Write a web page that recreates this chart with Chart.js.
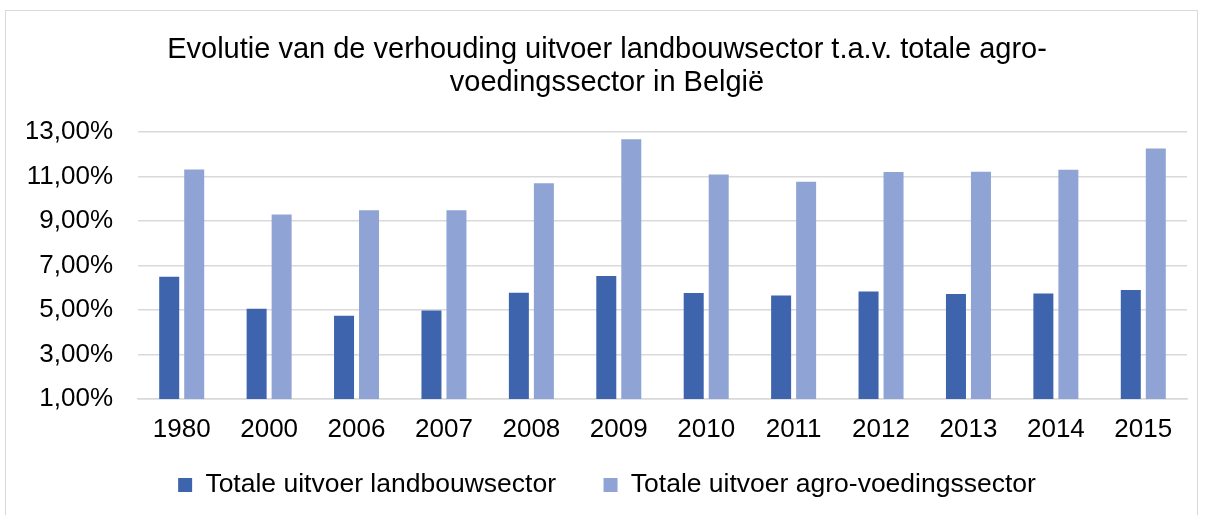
<!DOCTYPE html>
<html>
<head>
<meta charset="utf-8">
<script src="https://cdn.jsdelivr.net/npm/chart.js@4/dist/chart.umd.min.js"></script>
<style>
  html, body { margin: 0; padding: 0; background: #fff; }
  #kader { position: absolute; left: 5px; top: 10px; width: 1191px; height: 600px; border: 1px solid #d9d9d9; }
  #wrap { position: absolute; left: 0; top: 0; width: 1205px; height: 515px; }
</style>
</head>
<body>
<div id="kader"></div>
<div id="wrap"><canvas id="grafiek"></canvas></div>
<script>
const jaren = ["1980", "2000", "2006", "2007", "2008", "2009", "2010", "2011", "2012", "2013", "2014", "2015"];
const landbouw = [6.50, 5.06, 4.74, 4.98, 5.78, 6.53, 5.77, 5.65, 5.83, 5.72, 5.74, 5.90];
const agroVoeding = [11.32, 9.29, 9.48, 9.48, 10.70, 12.67, 11.09, 10.77, 11.20, 11.21, 11.30, 12.26];
const reeksNamen = ["Totale uitvoer landbouwsector", "Totale uitvoer agro-voedingssector"];
const titel = ["Evolutie van de verhouding uitvoer landbouwsector t.a.v. totale agro-", "voedingssector in België"];

const lettertype = "'Liberation Sans', Arial, sans-serif";

function procent(v) {
  return v.toFixed(2).replace(".", ",") + "%";
}

new Chart(document.getElementById("grafiek"), {
  type: "bar",
  data: {
    labels: jaren,
    datasets: [
      { label: reeksNamen[0], data: landbouw, backgroundColor: "#3d64ad" },
      { label: reeksNamen[1], data: agroVoeding, backgroundColor: "#8fa4d4" }
    ]
  },
  options: {
    responsive: true,
    maintainAspectRatio: false,
    animation: false,
    datasets: { bar: { categoryPercentage: 0.572, barPercentage: 0.8 } },
    layout: { padding: { top: 33.5, left: 27, right: 18, bottom: 6.75 } },
    plugins: {
      tooltip: { enabled: false },
      title: {
        display: true,
        text: titel,
        color: "#000",
        font: { family: lettertype, size: 29, weight: "normal", lineHeight: 1.14 },
        padding: { top: 0, bottom: 32.4 }
      },
      legend: {
        position: "bottom",
        labels: {
          color: "#000",
          font: { family: lettertype, size: 26.5 },
          boxWidth: 14,
          boxHeight: 14,
          padding: 10.75,
          generateLabels: chart => {
            const items = Chart.defaults.plugins.legend.labels.generateLabels(chart);
            items[0].text = items[0].text + "     ";
            items.forEach(it => { it.lineWidth = 0; });
            return items;
          }
        }
      }
    },
    scales: {
      x: {
        grid: { display: false, drawTicks: false },
        border: { color: "#d9d9d9", width: 1.5 },
        ticks: { color: "#000", font: { family: lettertype, size: 26 }, padding: 15.4, maxRotation: 0 }
      },
      y: {
        min: 1,
        max: 13,
        grid: { color: "#d9d9d9", lineWidth: 1.5, drawTicks: false },
        border: { display: false },
        afterFit: scale => { scale.width = 111; },
        ticks: {
          stepSize: 2,
          color: "#000",
          font: { family: lettertype, size: 26 },
          padding: 25,
          callback: v => procent(v)
        }
      }
    }
  }
});
</script>
</body>
</html>
